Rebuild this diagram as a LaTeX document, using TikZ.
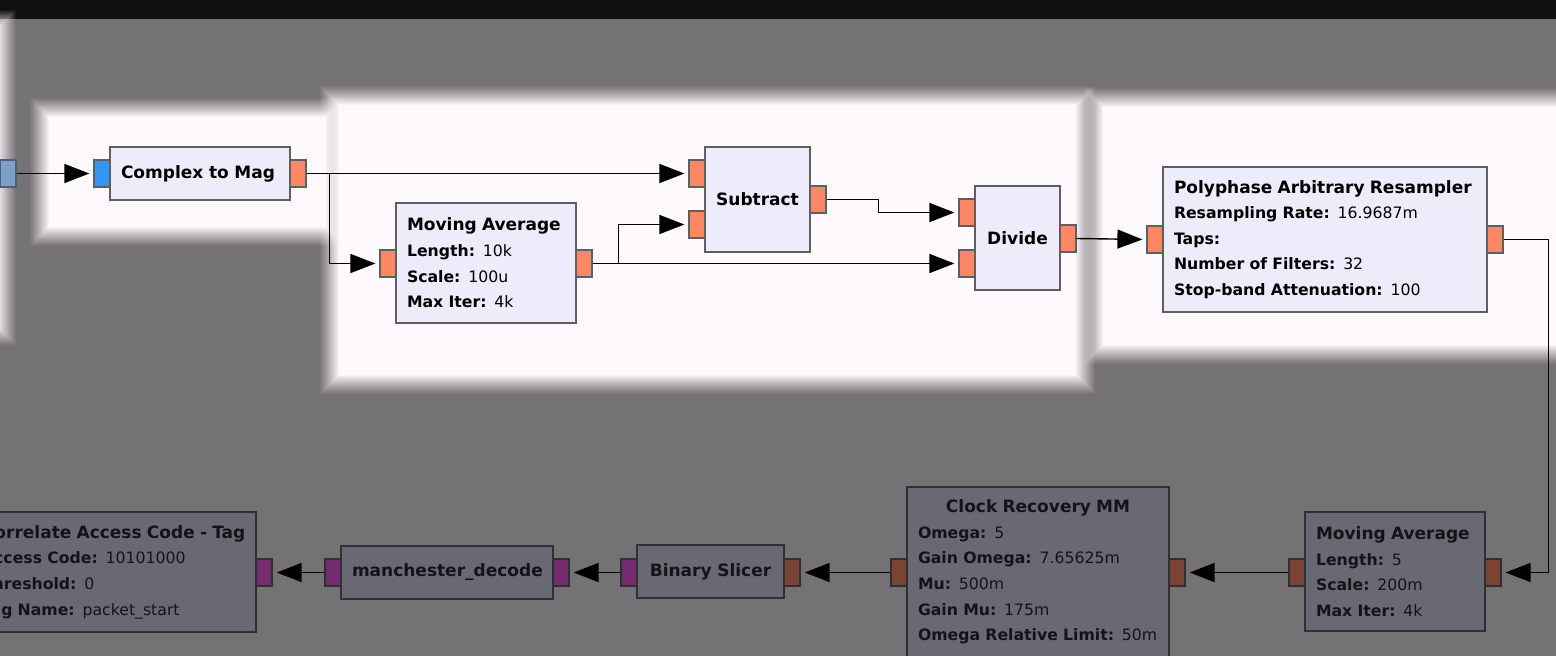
\documentclass[tikz,border=0pt]{standalone}
\usepackage{fontspec}
\setmainfont{DejaVu Sans}
\usetikzlibrary{arrows.meta}

\definecolor{bggrey}{RGB}{117,114,118}
\definecolor{topbar}{RGB}{15,15,15}
\definecolor{hilite}{RGB}{253,249,253}
\definecolor{blkfill}{RGB}{236,236,251}
\definecolor{blkedge}{RGB}{95,95,95}
\definecolor{dimfill}{RGB}{105,104,117}
\definecolor{dimedge}{RGB}{48,48,50}
\definecolor{dimtext}{RGB}{20,20,22}
\definecolor{portorange}{RGB}{252,135,100}
\definecolor{portblue}{RGB}{50,150,245}
\definecolor{portbrown}{RGB}{121,68,52}
\definecolor{portpurple}{RGB}{117,43,112}
\definecolor{edgeblue}{RGB}{125,160,200}

\newcommand{\ttlfont}{\fontsize{17}{25.6}\selectfont\bfseries}
\newcommand{\parfont}{\fontsize{15.7}{25.6}\selectfont}
\newcommand{\kv}[2]{\mbox{\textbf{#1:} #2}}
\newcommand{\ttl}[1]{\mbox{\ttlfont #1}}
% soft white highlight, x1 y1 x2 y2 (linear ramp over 20pt)
\newcommand{\glow}[4]{%
  \foreach \g in {0,...,19}
    \fill[hilite,opacity={1/(20-\g)}] (#1-10+\g,#2-10+\g) rectangle (#3+10-\g,#4+10-\g);}

\begin{document}
\begin{tikzpicture}[x=1pt,y=-1pt,
  blk/.style={rectangle,draw=blkedge,fill=blkfill,line width=1.5pt,inner xsep=11pt,inner ysep=0pt,align=left,font=\parfont,text=black},
  dimblk/.style={blk,draw=dimedge,fill=dimfill,text=dimtext},
  port/.style={rectangle,draw=blkedge,line width=1.2pt,minimum width=16pt,minimum height=27pt,inner sep=0pt},
  oport/.style={port,fill=portorange},
  bport/.style={port,draw=dimedge,fill=portbrown},
  pport/.style={port,draw=dimedge,fill=portpurple},
  conn/.style={line width=1.4pt,draw=black,-{Triangle[length=25pt,width=19pt]},shorten >=4pt}]
\useasboundingbox (0,0) rectangle (1556,656);
\clip (0,0) rectangle (1556,656);

% screen
\fill[bggrey] (0,0) rectangle (1556,656);
\fill[topbar] (0,0) rectangle (1556,19);
\glow{-20}{20}{6}{335}
\glow{40}{108}{335}{236}
\glow{330}{96}{1085}{384}
\glow{1094}{98}{1570}{354}

% top row
\node[port,fill=edgeblue,draw=edgeblue!60!black] (src) at (8,173.5) {};

\node[blk,font=\ttlfont,text width=158pt,minimum height=53pt] (c2m) at (200,173.5) {Complex to Mag};
\node[port,fill=portblue] (c2m-in) at (102,173.5) {};
\node[oport] (c2m-out) at (298,173.5) {};

\node[blk,text width=158pt,minimum height=120pt] (ma1) at (486,263)
  {\ttl{Moving Average}\\ \kv{Length}{10k}\\ \kv{Scale}{100u}\\ \kv{Max Iter}{4k}};
\node[oport] (ma1-in) at (388,263.5) {};
\node[oport] (ma1-out) at (584,263.5) {};

\node[blk,font=\ttlfont,align=center,text width=83pt,minimum height=105pt] (sub) at (757.5,199.5) {Subtract};
\node[oport] (sub-in0) at (697,173.5) {};
\node[oport] (sub-in1) at (697,224.5) {};
\node[oport] (sub-out) at (818,199.5) {};

\node[blk,font=\ttlfont,align=center,text width=63pt,minimum height=104pt] (div) at (1017.5,238) {Divide};
\node[oport] (div-in0) at (967,212.5) {};
\node[oport] (div-in1) at (967,263.5) {};
\node[oport] (div-out) at (1068,238.5) {};

\node[blk,text width=302pt,minimum height=145pt] (poly) at (1325,239.5)
  {\ttl{Polyphase Arbitrary Resampler}\\ \kv{Resampling Rate}{16.9687m}\\ \kv{Taps}{}\\
   \kv{Number of Filters}{32}\\ \kv{Stop-band Attenuation}{100}};
\node[oport] (poly-in) at (1155,239.5) {};
\node[oport] (poly-out) at (1495,239.5) {};

% bottom row, flipped
\node[dimblk,text width=158pt,minimum height=119pt] (ma2) at (1395,571.5)
  {\ttl{Moving Average}\\ \kv{Length}{5}\\ \kv{Scale}{200m}\\ \kv{Max Iter}{4k}};
\node[bport] (ma2-in) at (1493,572.5) {};
\node[bport] (ma2-out) at (1297,572.5) {};

\node[dimblk,text width=240pt,minimum height=170pt] (crm) at (1038,572)
  {\makebox[240pt]{\ttlfont Clock Recovery MM}\\ \kv{Omega}{5}\\ \kv{Gain Omega}{7.65625m}\\
   \kv{Mu}{500m}\\ \kv{Gain Mu}{175m}\\ \kv{Omega Relative Limit}{50m}};
\node[bport] (crm-in) at (1177,572.5) {};
\node[bport] (crm-out) at (899,572.5) {};

\node[dimblk,font=\ttlfont,align=center,text width=125pt,minimum height=53pt] (slc) at (710.5,571.5) {Binary Slicer};
\node[bport] (slc-in) at (792,572.5) {};
\node[pport] (slc-out) at (629,572.5) {};

\node[dimblk,font=\ttlfont,text width=190pt,minimum height=53pt] (mdec) at (447,572.5) {manchester\_decode};
\node[pport] (mdec-in) at (561,572.5) {};
\node[pport] (mdec-out) at (333,572.5) {};

\node[dimblk,inner xsep=6pt,text width=268pt,minimum height=120pt] (corr) at (116,572)
  {\ttl{Correlate Access Code - Tag}\\ \kv{Access Code}{10101000}\\ \kv{Threshold}{0}\\ \kv{Tag Name}{packet\_start}};
\node[pport] (corr-in) at (264,572.5) {};

% connections
\draw[conn] (src.east) -- (c2m-in.west);
\draw[conn] (c2m-out.east) -- (sub-in0.west);
\draw[conn] (c2m-out.east) -- ++(23,0) |- (ma1-in.west);
\draw[conn] (ma1-out.east) -- (div-in1.west);
\draw[conn] (ma1-out.east) -- ++(26,0) |- (sub-in1.west);
\draw[conn] (sub-out.east) -- ++(52,0) |- (div-in0.west);
\draw[conn] (div-out.east) -- (poly-in.west);
\draw[conn] (poly-out.east) -- ++(45,0) |- (ma2-in.east);
\draw[conn] (ma2-out.west) -- (crm-in.east);
\draw[conn] (crm-out.west) -- (slc-in.east);
\draw[conn] (slc-out.west) -- (mdec-in.east);
\draw[conn] (mdec-out.west) -- (corr-in.east);
\end{tikzpicture}
\end{document}
